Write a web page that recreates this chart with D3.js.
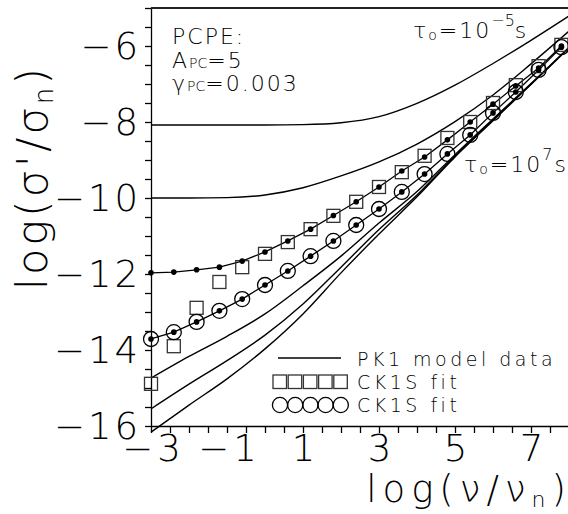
<!DOCTYPE html>
<html>
<head>
<meta charset="utf-8">
<script src="https://cdn.jsdelivr.net/npm/d3@7"></script>
<style>
  body { margin: 0; background: #fff; }
  svg { display: block; font-family: "DejaVu Sans ExtraLight", "DejaVu Sans", sans-serif; font-weight: 200; }
  .axis path, .axis line { stroke: #000; stroke-width: 1.3; }
  .axis text { font-family: "DejaVu Sans ExtraLight", "DejaVu Sans", sans-serif; font-weight: 200; font-size: 37px; fill: #000; }
</style>
</head>
<body>
<script>
// model curves, sampled at integer log(nu/nu_n)
var curveX = [-3, -2, -1, 0, 1, 2, 3, 4, 5, 6, 7, 8];
var pk1TauM5 = [-8.08, -8.08, -8.08, -8.08, -8.07, -8.02, -7.86, -7.51, -7.03, -6.46, -5.85, -5.21];
var pk1Mid1 = [-10.0, -10.0, -9.99, -9.92, -9.73, -9.42, -9.05, -8.58, -7.99, -7.29, -6.47, -5.61];
var pk1Mid2 = [-14.74, -14.17, -13.64, -13.05, -12.31, -11.53, -10.66, -9.83, -8.86, -7.92, -6.99, -6.03];
var pk1Mid3 = [-15.55, -14.9, -14.28, -13.61, -12.79, -11.82, -10.83, -9.92, -8.9, -7.95, -7.0, -6.05];
var pk1Tau7 = [-16.16, -15.45, -14.76, -13.97, -13.05, -11.97, -10.95, -9.97, -8.92, -7.97, -7.01, -6.05];

// fit points
var fitX = [-3, -2.4, -1.8, -1.2, -0.6, 0, 0.6, 1.2, 1.8, 2.4, 3.0, 3.6, 4.2, 4.8, 5.4, 6.0, 6.6, 7.2, 7.8];
var dotsSq = [-11.97, -11.95, -11.89, -11.82, -11.66, -11.42, -11.13, -10.82, -10.46, -10.1, -9.71, -9.29, -8.92, -8.47, -8.0, -7.53, -7.05, -6.58, -6.0];
var squares = [-14.89, -13.9, -12.89, -12.21, -11.82, -11.47, -11.16, -10.82, -10.47, -10.1, -9.71, -9.32, -8.89, -8.42, -8.0, -7.5, -7.03, -6.53, -5.97];
var circles = [-13.71, -13.53, -13.26, -12.97, -12.66, -12.29, -11.92, -11.53, -11.13, -10.71, -10.29, -9.84, -9.37, -8.84, -8.34, -7.76, -7.21, -6.63, -6.03];

var xTicks = d3.range(-3, 8.01, 0.5);
var yTicks = d3.range(-16, -4.99, 0.5);
var xLabels = [-3, -1, 1, 3, 5, 7];
var yLabels = [-16, -14, -12, -10, -8, -6];

var w = 568, h = 514;
var x = d3.scaleLinear().domain([-3, 8]).range([151, 569]);
var y = d3.scaleLinear().domain([-16, -5]).range([426, 8]);

var svg = d3.select("body").append("svg")
    .attr("width", w)
    .attr("height", h);

var fmt = function(d) { return d < 0 ? "\u2212" + Math.abs(d) : String(d); };

// axes
var gx = svg.append("g")
    .attr("class", "axis")
    .attr("transform", "translate(0," + y(-16) + ")")
    .call(d3.axisBottom(x).tickValues(xTicks).tickSize(7).tickSizeOuter(0)
      .tickFormat(function(d) { return xLabels.indexOf(d) >= 0 ? fmt(d) : ""; }));
gx.attr("font-family", null).attr("font-size", null);
gx.selectAll("text").attr("dy", "0.9em").attr("y", 2).attr("dx", 2).style("letter-spacing", "4px");

var gy = svg.append("g")
    .attr("class", "axis")
    .attr("transform", "translate(" + x(-3) + ",0)")
    .call(d3.axisLeft(y).tickValues(yTicks).tickSize(6).tickSizeOuter(0)
      .tickFormat(function(d) { return yLabels.indexOf(d) >= 0 ? fmt(d) : ""; }));
gy.attr("font-family", null).attr("font-size", null);
gy.selectAll("text").attr("x", -10).attr("dy", "0.34em").style("letter-spacing", "3px");

// top frame line
svg.append("line")
    .attr("x1", x(-3)).attr("x2", w)
    .attr("y1", y(-5)).attr("y2", y(-5))
    .attr("stroke", "#222").attr("stroke-width", 2);

var smooth = d3.line()
    .x(function(d) { return x(d[0]); })
    .y(function(d) { return y(d[1]); })
    .curve(d3.curveMonotoneX);
var straight = d3.line()
    .x(function(d) { return x(d[0]); })
    .y(function(d) { return y(d[1]); });

[pk1TauM5, pk1Mid1, pk1Mid2, pk1Mid3, pk1Tau7].forEach(function(s) {
  svg.append("path")
      .attr("d", smooth(d3.zip(curveX, s)))
      .attr("fill", "none")
      .attr("stroke", "#000")
      .attr("stroke-width", 1.4);
});

// lines through the fit dots
[dotsSq, circles].forEach(function(s) {
  svg.append("path")
      .attr("d", straight(d3.zip(fitX, s)))
      .attr("fill", "none")
      .attr("stroke", "#000")
      .attr("stroke-width", 1.3);
});

var sq = 13;
svg.append("g").selectAll("rect")
    .data(d3.zip(fitX, squares))
  .enter().append("rect")
    .attr("x", function(d) { return x(d[0]) - sq / 2; })
    .attr("y", function(d) { return y(d[1]) - sq / 2; })
    .attr("width", sq).attr("height", sq)
    .attr("fill", "none").attr("stroke", "#333").attr("stroke-width", 1.3);

svg.append("g").selectAll("circle")
    .data(d3.zip(fitX, circles))
  .enter().append("circle")
    .attr("cx", function(d) { return x(d[0]); })
    .attr("cy", function(d) { return y(d[1]); })
    .attr("r", 7.5)
    .attr("fill", "none").attr("stroke", "#000").attr("stroke-width", 1.3);

svg.append("g").selectAll("circle")
    .data(d3.zip(fitX, dotsSq).concat(d3.zip(fitX, circles)))
  .enter().append("circle")
    .attr("cx", function(d) { return x(d[0]); })
    .attr("cy", function(d) { return y(d[1]); })
    .attr("r", 2.8)
    .attr("fill", "#000");

// legend
var lg = svg.append("g").style("font-size", "19px").style("letter-spacing", "3.5px");
lg.append("line")
    .attr("x1", 278).attr("x2", 341).attr("y1", 358).attr("y2", 358)
    .attr("stroke", "#000").attr("stroke-width", 1.4);
lg.selectAll("rect").data(d3.range(5)).enter().append("rect")
    .attr("x", function(i) { return 273 + i * 15.2; })
    .attr("y", 375).attr("width", 13.5).attr("height", 13.5)
    .attr("fill", "none").attr("stroke", "#333").attr("stroke-width", 1.3);
lg.selectAll("circle").data(d3.range(5)).enter().append("circle")
    .attr("cx", function(i) { return 280 + i * 15.2; })
    .attr("cy", 405).attr("r", 7.6)
    .attr("fill", "none").attr("stroke", "#000").attr("stroke-width", 1.3);
lg.append("text").attr("x", 357).attr("y", 366).text("PK1  model  data");
lg.append("text").attr("x", 357).attr("y", 389).text("CK1S  fit");
lg.append("text").attr("x", 357).attr("y", 412).text("CK1S  fit");

// annotations
var ann = svg.append("g").style("font-size", "22px").style("letter-spacing", "2px");
ann.append("text").attr("x", 172).attr("y", 44).text("PCPE:");
var a2 = ann.append("text").attr("x", 172).attr("y", 68);
a2.append("tspan").text("A");
a2.append("tspan").style("font-size", "14px").style("letter-spacing", "0px").text("PC");
a2.append("tspan").text("=5");
var a3 = ann.append("text").attr("x", 172).attr("y", 91);
a3.append("tspan").text("\u03b3");
a3.append("tspan").style("font-size", "14px").style("letter-spacing", "0px").text("PC");
a3.append("tspan").text("=0.003");

var t1 = ann.append("text").attr("x", 413).attr("y", 38);
t1.append("tspan").text("\u03c4");
t1.append("tspan").style("font-size", "14px").attr("dy", 2).text("o");
t1.append("tspan").attr("dy", -2).text("=10");
t1.append("tspan").style("font-size", "16px").style("letter-spacing", "0px").attr("dy", -12).text("\u22125");
t1.append("tspan").attr("dy", 12).text("s");

var t2 = ann.append("text").attr("x", 464).attr("y", 172);
t2.append("tspan").text("\u03c4");
t2.append("tspan").style("font-size", "14px").attr("dy", 2).text("o");
t2.append("tspan").attr("dy", -2).text("=10");
t2.append("tspan").style("font-size", "16px").attr("dy", -12).text("7");
t2.append("tspan").attr("dy", 12).text("s");

// axis titles
var yt = svg.append("text")
    .attr("transform", "translate(47,290) rotate(-90)")
    .style("font-size", "43px")
    .style("letter-spacing", "3px");
yt.append("tspan").text("log(\u03c3'/\u03c3");
yt.append("tspan").style("font-size", "26px").attr("dy", 6).text("n");
yt.append("tspan").attr("dy", -6).text(")");

var xt = svg.append("text")
    .attr("x", 566).attr("y", 502)
    .attr("text-anchor", "end")
    .style("font-size", "37px")
    .style("letter-spacing", "6px");
xt.append("tspan").text("log(\u03bd/\u03bd");
xt.append("tspan").style("font-size", "22px").attr("dy", 5).text("n");
xt.append("tspan").attr("dy", -5).style("letter-spacing", "0px").text(")");
</script>
</body>
</html>
